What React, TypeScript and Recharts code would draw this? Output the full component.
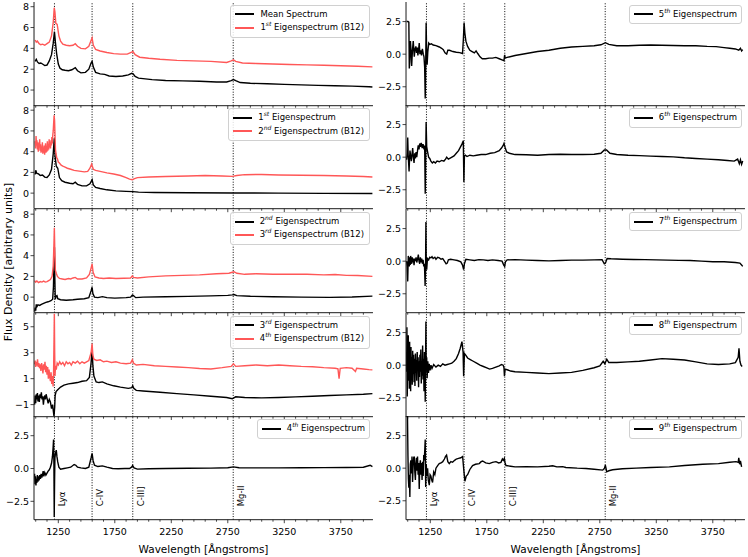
import React from "react";
import { Line, LineChart, ReferenceLine, XAxis, YAxis } from "recharts";

type Pt = [number, number];

// wavelength axis
const X_DOMAIN: [number, number] = [1035, 4035];
const X_TICKS = [
  1050, 1150, 1250, 1350, 1450, 1550, 1650, 1750, 1850, 1950, 2050, 2150, 2250, 2350, 2450,
  2550, 2650, 2750, 2850, 2950, 3050, 3150, 3250, 3350, 3450, 3550, 3650, 3750, 3850, 3950,
];
const X_MAJOR = [1250, 1750, 2250, 2750, 3250, 3750];

// emission lines
const LINE_WAVES = [1216, 1549, 1909, 2798];
const LINE_NAMES = ["Lyα", "C-IV", "C-III]", "Mg-II"];

// ---- left column ----
const MEAN: Pt[] = [
  [1045, 2.75], [1055, 2.95], [1065, 2.7], [1080, 2.55], [1095, 2.6], [1110, 2.5], [1130, 2.35], [1150, 2.4],
  [1170, 2.8], [1190, 3.4], [1205, 4.5], [1216, 5.6], [1225, 4.5], [1235, 3.5], [1250, 2.5], [1265, 2.1],
  [1285, 1.95], [1310, 1.9], [1340, 1.85], [1370, 1.95], [1400, 2.15], [1420, 1.85], [1450, 1.65], [1490, 1.7],
  [1520, 2.0], [1540, 2.6], [1549, 2.75], [1560, 2.2], [1580, 1.7], [1620, 1.55], [1660, 1.5], [1700, 1.35],
  [1760, 1.3], [1820, 1.35], [1870, 1.45], [1900, 1.6], [1912, 1.55], [1930, 1.3], [1960, 1.15], [2000, 1.1],
  [2080, 1.0], [2200, 0.92], [2350, 0.88], [2500, 0.85], [2650, 0.78], [2740, 0.78], [2780, 0.9], [2800, 1.0],
  [2820, 0.9], [2860, 0.72], [2950, 0.65], [3100, 0.6], [3250, 0.55], [3400, 0.5], [3550, 0.45], [3700, 0.42],
  [3850, 0.38], [4000, 0.32], [4030, 0.3],
];
const B12_1: Pt[] = [
  [1045, 4.8], [1055, 4.6], [1065, 4.7], [1080, 4.45], [1095, 4.35], [1110, 4.4], [1130, 4.3], [1150, 4.45],
  [1170, 4.6], [1190, 5.2], [1205, 6.5], [1214, 7.9], [1220, 7.5], [1228, 6.4], [1240, 6.3], [1255, 5.2],
  [1270, 4.7], [1290, 4.4], [1320, 4.3], [1350, 4.25], [1380, 4.3], [1400, 4.45], [1420, 4.2], [1450, 4.0],
  [1490, 3.95], [1520, 4.2], [1540, 4.75], [1549, 5.0], [1560, 4.3], [1580, 3.9], [1620, 3.75], [1680, 3.6],
  [1740, 3.5], [1800, 3.45], [1860, 3.45], [1900, 3.65], [1910, 3.7], [1930, 3.4], [1970, 3.15], [2050, 3.05],
  [2150, 2.95], [2300, 2.85], [2450, 2.8], [2600, 2.75], [2740, 2.65], [2780, 2.8], [2800, 2.9], [2820, 2.75],
  [2880, 2.6], [3000, 2.55], [3150, 2.5], [3300, 2.45], [3450, 2.42], [3600, 2.38], [3750, 2.33], [3900, 2.28],
  [4030, 2.22],
];
const EIG1: Pt[] = [
  [1045, 1.8], [1050, 2.2], [1060, 1.9], [1075, 1.85], [1090, 1.7], [1110, 1.75], [1130, 1.55], [1150, 1.5],
  [1170, 1.75], [1190, 2.3], [1205, 3.8], [1214, 5.3], [1222, 3.5], [1232, 2.6], [1245, 2.4], [1260, 1.5],
  [1280, 1.2], [1310, 1.05], [1350, 0.95], [1380, 0.9], [1400, 1.05], [1420, 0.85], [1460, 0.7], [1500, 0.7],
  [1530, 0.9], [1549, 1.3], [1560, 0.8], [1580, 0.55], [1620, 0.45], [1680, 0.32], [1760, 0.22], [1850, 0.17],
  [1910, 0.15], [1960, 0.1], [2100, 0.06], [2400, 0.03], [2800, 0.02], [3200, 0.0], [3600, -0.02], [4030, -0.03],
];
const B12_2: Pt[] = [
  [1045, 5.0], [1049, 4.3], [1053, 5.5], [1057, 4.6], [1061, 5.1], [1065, 4.2], [1069, 4.9], [1073, 4.0],
  [1077, 4.8], [1081, 4.4], [1085, 5.2], [1089, 4.1], [1093, 4.7], [1097, 3.9], [1101, 4.5], [1105, 4.0],
  [1109, 4.9], [1113, 3.8], [1117, 4.4], [1121, 3.9], [1125, 4.6], [1129, 3.7], [1133, 4.3], [1137, 4.8],
  [1141, 3.9], [1145, 4.5], [1149, 4.0], [1153, 5.0], [1157, 4.1], [1161, 4.7], [1165, 4.2], [1169, 5.2],
  [1173, 4.4], [1177, 4.9], [1181, 4.3], [1185, 5.1], [1189, 4.6], [1193, 5.4], [1197, 4.8], [1201, 5.6],
  [1205, 6.0], [1209, 6.8], [1213, 7.5], [1217, 7.0], [1221, 5.5], [1225, 4.2], [1230, 3.8], [1236, 3.4],
  [1242, 3.3], [1250, 3.0], [1260, 2.9], [1275, 2.7], [1290, 2.6], [1310, 2.5], [1330, 2.4], [1360, 2.3],
  [1390, 2.2], [1420, 2.15], [1450, 2.1], [1480, 2.05], [1510, 2.1], [1530, 2.4], [1545, 2.8], [1551, 2.6],
  [1560, 2.3], [1580, 2.2], [1620, 2.1], [1680, 1.95], [1740, 1.85], [1800, 1.7], [1850, 1.5], [1880, 1.35],
  [1905, 1.3], [1925, 1.4], [1950, 1.5], [2050, 1.55], [2200, 1.6], [2400, 1.65], [2550, 1.7], [2700, 1.65],
  [2790, 1.62], [2830, 1.7], [2900, 1.78], [3050, 1.8], [3200, 1.75], [3400, 1.72], [3600, 1.7], [3800, 1.65],
  [3950, 1.6], [4030, 1.55],
];
const EIG2: Pt[] = [
  [1040, -1.4], [1045, -1.0], [1050, -1.3], [1055, -0.7], [1062, -0.9], [1070, -0.75], [1085, -0.8], [1100, -0.7],
  [1120, -0.6], [1140, -0.5], [1160, -0.45], [1185, -0.35], [1200, -0.2], [1207, 1.0], [1212, 3.5], [1216, 4.8],
  [1219, 2.0], [1223, -0.2], [1230, 0.1], [1238, 0.15], [1245, -0.15], [1270, -0.25], [1320, -0.3], [1380, -0.25],
  [1420, -0.2], [1480, -0.15], [1520, -0.05], [1540, 0.6], [1549, 0.95], [1556, 0.35], [1570, 0.0], [1600, -0.05],
  [1640, 0.05], [1680, -0.05], [1750, -0.1], [1850, -0.05], [1890, 0.0], [1905, 0.2], [1915, 0.15], [1935, -0.05],
  [2000, 0.0], [2200, 0.03], [2400, 0.07], [2600, 0.12], [2750, 0.17], [2790, 0.22], [2805, 0.25], [2830, 0.15],
  [2950, 0.08], [3150, 0.04], [3400, 0.0], [3650, -0.02], [3850, 0.02], [4030, 0.1],
];
const B12_3: Pt[] = [
  [1040, 1.6], [1050, 1.45], [1060, 1.55], [1075, 1.4], [1090, 1.5], [1105, 1.45], [1120, 1.55], [1135, 1.45],
  [1150, 1.5], [1165, 1.6], [1180, 1.7], [1195, 2.0], [1205, 3.0], [1211, 5.0], [1215, 6.7], [1219, 4.5],
  [1224, 2.6], [1232, 2.3], [1242, 2.0], [1260, 1.8], [1285, 1.75], [1310, 1.7], [1340, 1.8], [1360, 1.75],
  [1380, 1.85], [1400, 1.9], [1420, 1.75], [1460, 1.75], [1500, 1.85], [1525, 2.2], [1540, 2.8], [1549, 3.2],
  [1558, 2.4], [1575, 1.95], [1610, 1.85], [1650, 1.8], [1700, 1.85], [1760, 1.8], [1830, 1.82], [1890, 1.85],
  [1905, 2.05], [1915, 1.9], [1950, 1.85], [2050, 1.95], [2200, 2.05], [2350, 2.1], [2500, 2.15], [2650, 2.25],
  [2760, 2.3], [2790, 2.4], [2805, 2.45], [2830, 2.3], [2900, 2.2], [3000, 2.25], [3150, 2.2], [3300, 2.22],
  [3450, 2.2], [3600, 2.15], [3700, 2.18], [3800, 2.1], [3900, 2.08], [4030, 2.0],
];
const EIG3: Pt[] = [
  [1040, -1.0], [1045, -0.3], [1050, -0.9], [1055, -0.2], [1060, -0.6], [1065, -0.1], [1070, -0.75], [1076, -0.3],
  [1082, -0.8], [1088, -0.2], [1094, -0.5], [1100, -0.05], [1106, -0.6], [1112, -0.35], [1118, -1.0], [1124, -0.5],
  [1130, -0.3], [1136, -0.6], [1142, -0.2], [1150, -0.5], [1160, -0.9], [1170, -0.6], [1180, -0.8], [1190, -1.3],
  [1200, -1.0], [1206, -1.5], [1212, -1.9], [1218, -1.2], [1222, -0.3], [1230, 0.0], [1245, 0.15], [1270, 0.35],
  [1300, 0.5], [1340, 0.6], [1380, 0.65], [1420, 0.7], [1460, 0.8], [1500, 0.85], [1525, 1.1], [1540, 2.2],
  [1549, 3.3], [1556, 2.0], [1565, 1.2], [1585, 0.75], [1610, 0.7], [1640, 0.75], [1680, 0.6], [1740, 0.45],
  [1800, 0.35], [1870, 0.25], [1900, 0.3], [1908, 0.45], [1918, 0.25], [1940, 0.1], [2000, 0.05], [2150, -0.05],
  [2300, -0.15], [2450, -0.25], [2600, -0.35], [2740, -0.45], [2790, -0.55], [2800, -0.5], [2820, -0.4],
  [2900, -0.45], [3050, -0.48], [3200, -0.45], [3350, -0.4], [3500, -0.35], [3650, -0.3], [3800, -0.25],
  [3950, -0.2], [4030, -0.15],
];
const B12_4: Pt[] = [
  [1040, 2.1], [1045, 2.4], [1050, 1.9], [1055, 2.3], [1060, 2.0], [1066, 2.5], [1072, 1.9], [1078, 2.2],
  [1084, 1.8], [1090, 2.1], [1096, 1.6], [1102, 2.2], [1108, 1.9], [1114, 1.4], [1120, 2.1], [1126, 1.7],
  [1132, 2.3], [1138, 1.5], [1144, 2.0], [1150, 1.3], [1156, 1.9], [1162, 1.0], [1168, 1.7], [1174, 1.2],
  [1180, 0.8], [1186, 1.5], [1192, 0.6], [1198, 1.2], [1204, 0.4], [1208, 1.5], [1212, 4.0], [1215, 6.0],
  [1218, 3.0], [1221, 1.2], [1225, 2.0], [1232, 1.7], [1240, 2.2], [1250, 2.05], [1262, 2.3], [1275, 2.1],
  [1290, 2.25], [1305, 2.0], [1320, 2.3], [1335, 2.15], [1350, 2.25], [1365, 2.05], [1380, 2.3], [1400, 2.2],
  [1420, 2.35], [1440, 2.15], [1460, 2.3], [1480, 2.2], [1500, 2.3], [1520, 2.4], [1540, 3.0], [1549, 3.7],
  [1556, 2.8], [1565, 2.5], [1590, 2.4], [1620, 2.45], [1650, 2.3], [1680, 2.35], [1720, 2.25], [1760, 2.3],
  [1800, 2.2], [1850, 2.15], [1890, 2.2], [1905, 2.45], [1915, 2.2], [1940, 2.05], [2000, 2.1], [2100, 2.0],
  [2200, 1.95], [2300, 1.9], [2400, 1.85], [2500, 1.78], [2600, 1.75], [2700, 1.85], [2780, 1.95], [2800, 2.15],
  [2820, 1.95], [2900, 2.0], [3000, 2.05], [3100, 2.0], [3200, 2.05], [3300, 2.0], [3400, 1.95], [3500, 1.92],
  [3600, 1.85], [3700, 1.8], [3725, 1.75], [3735, 1.0], [3745, 1.8], [3800, 1.85], [3850, 1.8], [3880, 1.55],
  [3890, 1.8], [3950, 1.75], [4000, 1.7], [4030, 1.68],
];
const EIG4: Pt[] = [
  [1040, -0.4], [1044, -1.2], [1048, -0.6], [1052, -1.3], [1056, -0.8], [1060, -1.1], [1065, -0.5], [1070, -1.0],
  [1075, -0.6], [1080, -0.9], [1086, -0.5], [1092, -0.8], [1098, -0.4], [1104, -0.7], [1110, -0.5], [1116, -0.2],
  [1122, -0.6], [1130, -0.3], [1140, -0.5], [1150, -0.35], [1160, -0.2], [1170, -0.1], [1180, 0.1], [1190, 0.4],
  [1198, 0.9], [1204, 1.6], [1208, 2.2], [1211, 0.5], [1214, -3.7], [1217, -1.0], [1220, 0.8], [1226, 1.2],
  [1232, 1.4], [1238, 0.9], [1245, 0.5], [1255, 0.1], [1270, -0.05], [1300, 0.0], [1330, 0.05], [1360, 0.1],
  [1390, 0.3], [1405, 0.25], [1420, 0.1], [1450, 0.05], [1490, 0.0], [1520, 0.1], [1540, 0.8], [1549, 1.15],
  [1558, 0.6], [1570, 0.25], [1600, 0.15], [1640, 0.2], [1680, 0.1], [1730, 0.0], [1780, -0.02], [1840, 0.0],
  [1880, 0.0], [1898, 0.1], [1908, 0.22], [1920, 0.05], [1950, -0.05], [2050, -0.02], [2200, 0.0], [2400, 0.02],
  [2600, 0.03], [2750, 0.06], [2800, 0.12], [2850, 0.06], [3000, 0.05], [3200, 0.05], [3400, 0.06], [3600, 0.07],
  [3800, 0.08], [3950, 0.1], [4010, 0.25], [4030, 0.15],
];

// ---- right column ----
const EIG5: Pt[] = [
  [1040, 2.5], [1052, 2.5], [1060, 2.45], [1064, -1.1], [1068, -0.6], [1074, 1.0], [1080, 0.2], [1085, -0.9],
  [1092, 0.3], [1099, 1.0], [1105, 0.2], [1108, -0.2], [1115, 0.4], [1122, 0.6], [1128, 0.1], [1135, 0.5],
  [1140, -0.1], [1147, 0.4], [1152, 0.85], [1158, 0.0], [1165, 0.3], [1172, -0.1], [1180, 0.4], [1188, 0.0],
  [1194, -0.2], [1200, -1.0], [1205, -3.4], [1209, -1.0], [1213, 2.4], [1217, 0.5], [1222, -0.8], [1228, 0.2],
  [1236, 0.85], [1245, 0.75], [1260, 0.8], [1275, 0.7], [1300, 0.65], [1330, 0.55], [1350, 0.45], [1365, 0.35],
  [1380, 0.1], [1395, 0.0], [1405, 0.3], [1420, 0.3], [1450, 0.2], [1480, 0.15], [1510, 0.12], [1535, 0.05],
  [1543, 1.2], [1549, 2.4], [1556, 1.6], [1565, 1.0], [1580, 0.6], [1600, 0.3], [1620, 0.2], [1640, 0.1],
  [1655, 0.25], [1670, 0.05], [1690, -0.2], [1710, -0.35], [1740, -0.35], [1770, -0.3], [1800, -0.3], [1830, -0.25],
  [1860, -0.35], [1890, -0.45], [1902, -0.5], [1908, -0.05], [1912, -0.3], [1930, -0.25], [2000, -0.1], [2100, 0.05],
  [2200, 0.2], [2300, 0.3], [2400, 0.45], [2500, 0.55], [2600, 0.6], [2700, 0.65], [2760, 0.72], [2800, 0.88],
  [2830, 0.75], [2900, 0.65], [3000, 0.65], [3100, 0.68], [3200, 0.7], [3300, 0.68], [3400, 0.66], [3500, 0.65],
  [3600, 0.65], [3700, 0.6], [3780, 0.58], [3850, 0.5], [3900, 0.45], [3950, 0.4], [3980, 0.3], [3995, 0.45],
  [4005, 0.25], [4015, 0.35],
];
const EIG6: Pt[] = [
  [1040, -0.2], [1046, 0.3], [1050, 1.5], [1054, 0.2], [1058, -0.4], [1062, -1.1], [1066, -0.2], [1070, 0.5],
  [1076, 0.1], [1082, -0.3], [1088, 0.2], [1094, 0.7], [1100, 0.0], [1106, -0.45], [1112, 0.3], [1118, -0.1],
  [1124, 0.4], [1130, 0.0], [1137, 0.5], [1143, 0.9], [1150, 0.6], [1156, 1.05], [1162, 0.8], [1170, 1.1],
  [1178, 0.7], [1186, 1.0], [1194, 0.6], [1200, 0.9], [1205, -2.8], [1209, 0.0], [1213, 2.7], [1218, 0.8],
  [1226, 0.4], [1235, 0.0], [1245, -0.1], [1255, -0.3], [1268, -0.45], [1280, -0.35], [1295, -0.45], [1310, -0.3],
  [1330, -0.35], [1350, -0.25], [1370, -0.3], [1385, -0.15], [1395, 0.0], [1410, -0.15], [1430, -0.05], [1460, 0.1],
  [1480, 0.3], [1500, 0.5], [1515, 0.75], [1530, 1.0], [1542, 1.25], [1547, -1.9], [1552, 0.1], [1560, 0.15],
  [1575, 0.05], [1600, 0.15], [1630, 0.1], [1660, 0.15], [1700, 0.2], [1740, 0.2], [1780, 0.3], [1820, 0.35],
  [1860, 0.5], [1880, 0.7], [1895, 0.9], [1902, 1.05], [1912, 0.75], [1925, 0.4], [1950, 0.3], [2000, 0.2],
  [2100, 0.18], [2200, 0.15], [2300, 0.2], [2400, 0.22], [2500, 0.2], [2600, 0.2], [2700, 0.22], [2760, 0.3],
  [2790, 0.55], [2810, 0.55], [2840, 0.3], [2900, 0.2], [3000, 0.15], [3100, 0.12], [3200, 0.08], [3300, 0.05],
  [3400, 0.02], [3500, -0.05], [3600, -0.1], [3700, -0.15], [3800, -0.2], [3880, -0.25], [3940, -0.3],
  [3970, -0.15], [3985, -0.5], [3995, -0.2], [4005, -0.55], [4015, -0.3],
];
const EIG7: Pt[] = [
  [1040, 0.0], [1045, -0.4], [1050, -1.55], [1055, 0.4], [1060, 0.1], [1064, -0.4], [1068, 0.3], [1072, -0.3],
  [1076, 0.4], [1080, 0.1], [1085, -0.2], [1090, 0.3], [1095, -0.1], [1100, 0.2], [1106, -0.3], [1112, 0.2],
  [1118, 0.0], [1124, 0.3], [1130, -0.1], [1138, 0.2], [1144, 0.5], [1150, 0.0], [1156, -0.2], [1162, 0.3],
  [1168, -0.1], [1174, 0.2], [1180, -0.2], [1186, 0.1], [1192, -0.4], [1198, -0.2], [1204, -1.9], [1208, -0.5],
  [1211, 3.0], [1214, -0.2], [1218, -0.65], [1225, 0.2], [1235, 0.1], [1245, 0.3], [1255, 0.25], [1265, 0.35],
  [1275, 0.2], [1290, 0.3], [1300, 0.15], [1315, 0.3], [1330, 0.25], [1345, 0.15], [1360, 0.2], [1375, 0.0],
  [1390, -0.2], [1400, -0.15], [1410, 0.1], [1430, 0.15], [1460, 0.1], [1490, 0.05], [1520, -0.05], [1535, -0.3],
  [1545, -0.65], [1552, -0.2], [1565, 0.15], [1600, 0.1], [1640, 0.05], [1680, 0.12], [1720, 0.1], [1760, 0.05],
  [1800, 0.1], [1850, 0.05], [1885, 0.0], [1900, -0.3], [1908, -0.4], [1915, -0.05], [1930, 0.1], [2000, 0.12],
  [2100, 0.08], [2200, 0.05], [2300, 0.02], [2400, 0.05], [2500, 0.08], [2600, 0.08], [2700, 0.1], [2770, 0.12],
  [2790, -0.2], [2800, -0.15], [2815, 0.2], [2850, 0.18], [2950, 0.15], [3050, 0.13], [3150, 0.12], [3250, 0.1],
  [3350, 0.08], [3450, 0.06], [3550, 0.05], [3650, 0.0], [3750, -0.05], [3850, -0.05], [3950, -0.1],
  [3990, -0.15], [4005, -0.3], [4015, -0.4],
];
const EIG8: Pt[] = [
  [1040, -0.5], [1043, 2.9], [1046, -2.4], [1049, 1.5], [1052, -1.2], [1055, 2.3], [1058, -0.8], [1061, 1.2],
  [1064, -1.8], [1067, 1.8], [1070, -0.5], [1073, 0.9], [1076, -2.0], [1079, 1.4], [1082, -1.0], [1086, 0.6],
  [1090, -1.5], [1094, 1.1], [1098, -0.7], [1102, 0.8], [1106, -1.3], [1110, 0.5], [1114, -1.6], [1118, 0.9],
  [1122, -0.6], [1126, 0.4], [1130, -1.2], [1134, 1.0], [1138, -0.4], [1142, 0.6], [1146, -1.7], [1150, 0.3],
  [1154, -0.9], [1158, 0.8], [1162, -0.5], [1166, 1.2], [1170, -1.4], [1174, 0.2], [1178, -0.8], [1182, 1.5],
  [1186, -1.1], [1190, 0.5], [1194, -2.0], [1198, 1.0], [1202, -0.6], [1205, -2.8], [1208, 0.4], [1211, 3.35],
  [1214, -0.5], [1218, 0.6], [1222, -1.0], [1228, 0.3], [1234, -0.6], [1240, 0.1], [1248, -0.4], [1256, 0.0],
  [1265, -0.25], [1280, 0.05], [1300, -0.15], [1320, 0.0], [1340, -0.1], [1360, 0.1], [1380, 0.0], [1400, 0.05],
  [1420, 0.1], [1440, 0.15], [1460, 0.3], [1480, 0.5], [1500, 0.9], [1515, 1.3], [1530, 1.8], [1540, 1.0],
  [1545, -0.85], [1552, 0.9], [1565, 0.75], [1580, 0.55], [1600, 0.45], [1630, 0.3], [1660, 0.15], [1690, 0.0],
  [1720, -0.1], [1750, -0.2], [1775, -0.3], [1800, -0.25], [1830, -0.15], [1860, -0.05], [1880, 0.05],
  [1895, 0.0], [1902, -0.2], [1906, -0.85], [1912, -0.3], [1930, -0.35], [1960, -0.45], [2000, -0.5],
  [2100, -0.55], [2200, -0.6], [2300, -0.65], [2400, -0.6], [2500, -0.55], [2600, -0.4], [2700, -0.2],
  [2750, -0.05], [2780, 0.3], [2795, 0.1], [2812, 0.45], [2830, 0.2], [2900, 0.2], [3000, 0.25], [3100, 0.3],
  [3200, 0.4], [3300, 0.5], [3400, 0.45], [3500, 0.4], [3600, 0.25], [3700, 0.1], [3800, 0.05], [3900, 0.1],
  [3950, 0.2], [3975, 0.6], [3982, 1.3], [3990, 0.3], [4000, 0.0], [4010, -0.1],
];
const EIG9: Pt[] = [
  [1040, 4.0], [1048, 4.0], [1052, 1.0], [1056, -0.8], [1060, -1.5], [1064, -0.5], [1069, -2.2], [1073, 0.3],
  [1078, 0.6], [1083, -0.4], [1088, 0.9], [1093, -1.05], [1098, 0.2], [1103, 0.8], [1108, 0.9], [1113, -0.3],
  [1118, -0.9], [1122, 0.3], [1127, 0.8], [1132, -0.2], [1137, 0.9], [1142, -0.5], [1147, 0.4], [1152, -1.6],
  [1157, 0.2], [1162, 0.6], [1167, -0.5], [1172, 0.4], [1177, -0.9], [1182, 0.5], [1187, -0.6], [1192, 1.0],
  [1196, 0.6], [1200, 1.2], [1205, 2.2], [1209, -1.45], [1214, 0.3], [1220, -0.6], [1226, 0.0], [1232, -0.9],
  [1241, -1.3], [1248, -0.5], [1255, -0.6], [1262, -0.9], [1270, -1.1], [1280, -0.3], [1290, -0.5], [1300, 0.0],
  [1315, 0.2], [1329, 0.35], [1345, 0.4], [1360, 0.5], [1375, 0.7], [1385, 0.9], [1394, 1.0], [1405, 0.5],
  [1418, 0.35], [1432, 0.5], [1447, 0.45], [1465, 0.6], [1480, 0.7], [1500, 0.75], [1520, 0.8], [1536, 0.9],
  [1545, 0.0], [1556, -1.0], [1568, -0.6], [1580, -0.5], [1600, -0.1], [1624, 0.2], [1650, 0.3], [1683, 0.35],
  [1700, 0.5], [1713, 0.55], [1740, 0.4], [1772, 0.35], [1800, 0.45], [1831, 0.5], [1855, 0.4], [1875, 0.45],
  [1888, 0.7], [1896, 0.6], [1905, 0.75], [1912, 0.4], [1920, 0.2], [1960, 0.15], [2000, 0.1], [2100, 0.12],
  [2200, 0.1], [2300, 0.15], [2333, 0.18], [2370, 0.1], [2421, 0.12], [2450, 0.05], [2550, 0.0], [2628, -0.02],
  [2700, -0.08], [2776, -0.15], [2792, 0.0], [2799, 0.23], [2805, 0.0], [2811, -0.28], [2830, -0.2],
  [2864, -0.12], [2950, -0.05], [3071, 0.0], [3200, 0.05], [3366, 0.1], [3500, 0.2], [3661, 0.3], [3800, 0.35],
  [3900, 0.45], [3956, 0.5], [3975, 0.45], [3980, 0.8], [3988, 0.3], [3995, 0.55], [4005, 0.1],
];

const BLACK = "#000000";
const RED = "#ff5757";
const AX = "#1a1a1a";

const PLOT_W = 339;
const PLOT_H = 103.7;
const Y_W = 32;
const COL_LEFT = [34, 406];
const TOP0 = 1.5;

const intFmt = (v: number) => (v < 0 ? "\u2212" + Math.abs(v) : String(v));
const decFmt = (v: number) => (v < 0 ? "\u2212" + Math.abs(v).toFixed(1) : v.toFixed(1));

type Series = { pts: Pt[]; color: string; name: string };
type PanelDef = {
  col: number;
  row: number;
  series: Series[];
  domain: [number, number];
  ticks: number[];
  fmt: (v: number) => string;
};

const PANELS: PanelDef[] = [
  { col: 0, row: 0, domain: [-1.5, 8.45], ticks: [0, 2, 4, 6, 8], fmt: intFmt,
    series: [{ pts: MEAN, color: BLACK, name: "Mean Spectrum" }, { pts: B12_1, color: RED, name: "1^st Eigenspectrum (B12)" }] },
  { col: 0, row: 1, domain: [-1.5, 8.5], ticks: [0, 2, 4, 6, 8], fmt: intFmt,
    series: [{ pts: EIG1, color: BLACK, name: "1^st Eigenspectrum" }, { pts: B12_2, color: RED, name: "2^nd Eigenspectrum (B12)" }] },
  { col: 0, row: 2, domain: [-1.5, 8.5], ticks: [0, 2, 4, 6, 8], fmt: intFmt,
    series: [{ pts: EIG2, color: BLACK, name: "2^nd Eigenspectrum" }, { pts: B12_3, color: RED, name: "3^rd Eigenspectrum (B12)" }] },
  { col: 0, row: 3, domain: [-1.93, 6.06], ticks: [-1, 1, 3, 5], fmt: intFmt,
    series: [{ pts: EIG3, color: BLACK, name: "3^rd Eigenspectrum" }, { pts: B12_4, color: RED, name: "4^th Eigenspectrum (B12)" }] },
  { col: 0, row: 4, domain: [-3.9, 4.0], ticks: [-2.5, 0, 2.5], fmt: decFmt,
    series: [{ pts: EIG4, color: BLACK, name: "4^th Eigenspectrum" }] },
  { col: 1, row: 0, domain: [-3.95, 4.0], ticks: [-2.5, 0, 2.5], fmt: decFmt,
    series: [{ pts: EIG5, color: BLACK, name: "5^th Eigenspectrum" }] },
  { col: 1, row: 1, domain: [-3.95, 4.0], ticks: [-2.5, 0, 2.5], fmt: decFmt,
    series: [{ pts: EIG6, color: BLACK, name: "6^th Eigenspectrum" }] },
  { col: 1, row: 2, domain: [-3.95, 4.0], ticks: [-2.5, 0, 2.5], fmt: decFmt,
    series: [{ pts: EIG7, color: BLACK, name: "7^th Eigenspectrum" }] },
  { col: 1, row: 3, domain: [-3.95, 4.0], ticks: [-2.5, 0, 2.5], fmt: decFmt,
    series: [{ pts: EIG8, color: BLACK, name: "8^th Eigenspectrum" }] },
  { col: 1, row: 4, domain: [-3.95, 4.0], ticks: [-2.5, 0, 2.5], fmt: decFmt,
    series: [{ pts: EIG9, color: BLACK, name: "9^th Eigenspectrum" }] },
];

function XTick(props: any) {
  const { x, y, payload, showLabel } = props;
  const major = X_MAJOR.includes(payload.value);
  return (
    <g>
      <line x1={x} x2={x} y1={y} y2={y + (major ? 3.5 : 2)} stroke={AX} strokeWidth={0.8} />
      {showLabel && major && (
        <text x={x} y={y + 9} dy="0.71em" textAnchor="middle" fontSize={9.5} fill="#000">
          {payload.value}
        </text>
      )}
    </g>
  );
}

function LineTag(props: any) {
  const { viewBox, name } = props;
  const tx = viewBox.x + 8;
  const ty = viewBox.y + viewBox.height - 13.5;
  return (
    <text x={tx} y={ty} dy="0.35em" fontSize={8.5} fill="#000" transform={`rotate(-90 ${tx} ${ty})`}>
      {name}
    </text>
  );
}

function LegendLabel({ text }: { text: string }) {
  const m = text.match(/^(\d)\^(\w+)(.*)$/);
  if (!m) return <span>{text}</span>;
  return (
    <span>
      {m[1]}
      <sup style={{ fontSize: 6, fontStyle: "italic", verticalAlign: "super", lineHeight: 0 }}>{m[2]}</sup>
      {m[3]}
    </span>
  );
}

function LegendBox({ series }: { series: Series[] }) {
  const two = series.length > 1;
  return (
    <div
      style={{
        position: "absolute",
        right: 3,
        top: 3,
        padding: two ? "2px 5px 2px 4px" : "2px 4px 2px 4px",
        border: "1px solid #d0d0d0",
        borderRadius: 3,
        background: "rgba(255,255,255,0.85)",
        fontSize: 8.5,
        lineHeight: "13.5px",
        color: "#000",
        whiteSpace: "nowrap",
      }}
    >
      {series.map((s, i) => (
        <div key={i} style={{ display: "flex", alignItems: "center" }}>
          <span style={{ display: "inline-block", width: 19, height: 2, background: s.color, marginRight: 6 }} />
          <LegendLabel text={s.name} />
        </div>
      ))}
    </div>
  );
}

function Panel({ def }: { def: PanelDef }) {
  const last = def.row === 4;
  const xh = last ? 36 : 4;
  const left = COL_LEFT[def.col];
  const top = TOP0 + def.row * PLOT_H;
  return (
    <div style={{ position: "absolute", left: left - Y_W, top }}>
      <LineChart width={Y_W + PLOT_W} height={PLOT_H + xh} margin={{ top: 0, right: 0, bottom: 0, left: 0 }}>
        <XAxis
          xAxisId="top"
          orientation="top"
          type="number"
          domain={X_DOMAIN}
          allowDataOverflow
          height={0}
          tick={false}
          tickLine={false}
          axisLine={{ stroke: AX, strokeWidth: 1 }}
        />
        <YAxis
          yAxisId="right"
          orientation="right"
          type="number"
          domain={def.domain}
          allowDataOverflow
          width={0}
          tick={false}
          tickLine={false}
          axisLine={{ stroke: AX, strokeWidth: 1 }}
        />
        <XAxis
          dataKey="x"
          type="number"
          domain={X_DOMAIN}
          allowDataOverflow
          ticks={X_TICKS}
          interval={0}
          tickSize={0}
          tickMargin={0}
          tickLine={false}
          tick={<XTick showLabel={last} />}
          height={xh}
          axisLine={{ stroke: AX, strokeWidth: 1 }}
          label={
            last
              ? { value: "Wavelength [Ångstroms]", position: "insideBottom", offset: 3, style: { fontSize: 10.5, fill: "#000" } }
              : undefined
          }
        />
        <YAxis
          type="number"
          domain={def.domain}
          allowDataOverflow
          ticks={def.ticks}
          interval={0}
          tickFormatter={def.fmt}
          width={Y_W}
          tickSize={3.5}
          tickMargin={1.5}
          tick={{ fontSize: 9.5, fill: "#000" }}
          tickLine={{ stroke: AX, strokeWidth: 0.8 }}
          axisLine={{ stroke: AX, strokeWidth: 1 }}
        />
        {LINE_WAVES.map((w, i) => (
          <ReferenceLine
            key={w}
            x={w}
            stroke="#000"
            strokeWidth={1}
            strokeDasharray="1 1.6"
            label={last ? <LineTag name={LINE_NAMES[i]} /> : undefined}
          />
        ))}
        {def.series.map((s, i) => (
          <Line
            key={i}
            data={s.pts.map(([x, y]) => ({ x, y }))}
            dataKey="y"
            stroke={s.color}
            strokeWidth={1.4}
            dot={false}
            activeDot={false}
            isAnimationActive={false}
          />
        ))}
      </LineChart>
      <div style={{ position: "absolute", left: Y_W, top: 0, width: PLOT_W, height: PLOT_H, pointerEvents: "none" }}>
        <LegendBox series={def.series} />
      </div>
    </div>
  );
}

export default function App() {
  return (
    <div
      style={{
        position: "absolute",
        left: 0,
        top: 0,
        width: 748,
        height: 557,
        background: "#fff",
        fontFamily: "'DejaVu Sans', sans-serif",
        overflow: "hidden",
      }}
    >
      {PANELS.map((p, i) => (
        <Panel key={i} def={p} />
      ))}
      <svg width={20} height={557} style={{ position: "absolute", left: 0, top: 0 }}>
        <text
          x={8}
          y={262}
          dy="0.35em"
          textAnchor="middle"
          fontSize={11}
          fill="#000"
          transform="rotate(-90 8 262)"
        >
          Flux Density [arbitrary units]
        </text>
      </svg>
    </div>
  );
}
